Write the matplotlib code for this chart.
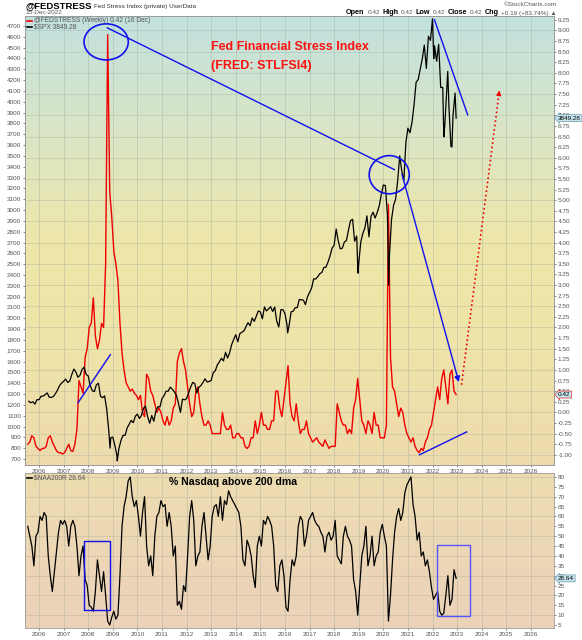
import matplotlib.pyplot as plt
import numpy as np
from matplotlib.colors import LinearSegmentedColormap
from matplotlib.patches import Ellipse, Rectangle
from matplotlib.lines import Line2D

plt.rcParams['font.family'] = ['Liberation Sans', 'DejaVu Sans']

# monthly readings, Jul 2005 .. Dec 2022 (last = 16 Dec 2022)
fsi = [-0.75, -0.70, -0.55, -0.60, -0.80, -0.85,
       -0.90, -0.85, -0.85, -0.80, -0.60, -0.55, -0.70, -0.80, -0.90, -0.95, -0.95, -0.98,   # 2006
       -0.95, -0.85, -0.75, -0.90, -0.92, -0.75, -0.40, 0.75, 0.60, 0.45, 1.30, 1.50,        # 2007
       2.00, 2.10, 2.70, 1.80, 1.50, 1.70, 2.10, 2.00, 3.50, 8.90, 5.20, 4.60,               # 2008
       3.80, 3.50, 3.10, 2.10, 1.40, 1.00, 0.70, 0.60, 0.50, 0.55, 0.45, 0.40,               # 2009
       0.30, 0.40, 0.00, -0.10, 0.90, 0.80, 0.50, 0.40, 0.20, 0.00, 0.10, 0.00,              # 2010
       -0.20, -0.30, -0.10, -0.30, -0.20, 0.10, 0.20, 1.20, 1.40, 1.50, 1.20, 1.00,          # 2011
       0.60, 0.20, -0.10, 0.00, 0.50, 0.60, 0.20, -0.10, -0.30, -0.30, -0.20, -0.30,         # 2012
       -0.50, -0.50, -0.50, -0.50, -0.50, 0.00, -0.30, -0.40, -0.40, -0.30, -0.60, -0.60,    # 2013
       -0.50, -0.50, -0.60, -0.60, -0.80, -0.85, -0.80, -0.60, -0.60, -0.20, -0.50, -0.30,   # 2014
       0.00, -0.30, -0.30, -0.40, -0.40, -0.20, -0.20, 0.50, 0.50, 0.10, -0.10, 0.30,        # 2015
       0.70, 1.10, 0.20, -0.10, -0.20, 0.20, -0.20, -0.50, -0.40, -0.40, -0.20, -0.50,       # 2016
       -0.60, -0.70, -0.65, -0.60, -0.70, -0.75, -0.80, -0.65, -0.75, -0.85, -0.80, -0.80,   # 2017
       -0.80, 0.20, 0.00, -0.20, -0.30, -0.30, -0.50, -0.40, -0.50, 0.10, 0.30, 0.80,        # 2018
       0.30, -0.20, -0.30, -0.50, -0.20, -0.30, -0.50, 0.00, -0.30, -0.30, -0.60, -0.60,     # 2019
       -0.60, -0.30, 4.90, 1.30, 0.60, 0.50, 0.20, -0.10, 0.10, 0.00, -0.30, -0.50,          # 2020
       -0.60, -0.70, -0.60, -0.80, -0.90, -0.95, -0.85, -0.90, -0.70, -0.60, -0.40, -0.30,   # 2021
       0.00, 0.30, 0.60, 0.30, 0.80, 1.00, 0.60, 0.20, 0.90, 1.00, 0.50, 0.42]               # 2022

# month-end closes
spx = [1234, 1220, 1229, 1207, 1249, 1248,
       1280, 1281, 1295, 1311, 1270, 1270, 1277, 1304, 1336, 1378, 1401, 1418,
       1438, 1407, 1421, 1482, 1531, 1503, 1455, 1474, 1527, 1549, 1481, 1468,
       1378, 1331, 1323, 1386, 1400, 1280, 1267, 1283, 1166, 969, 896, 903,
       826, 735, 798, 873, 919, 919, 987, 1021, 1057, 1036, 1096, 1115,
       1074, 1104, 1169, 1187, 1089, 1031, 1102, 1049, 1141, 1183, 1181, 1258,
       1286, 1327, 1326, 1364, 1345, 1321, 1292, 1219, 1131, 1253, 1247, 1258,
       1312, 1366, 1408, 1398, 1310, 1362, 1379, 1407, 1441, 1412, 1416, 1426,
       1498, 1515, 1569, 1598, 1631, 1606, 1686, 1633, 1682, 1757, 1806, 1848,
       1783, 1859, 1872, 1884, 1924, 1960, 1931, 2003, 1972, 2018, 2068, 2059,
       1995, 2105, 2068, 2086, 2107, 2063, 2104, 1972, 1920, 2079, 2080, 2044,
       1940, 1932, 2060, 2065, 2097, 2099, 2174, 2171, 2168, 2126, 2199, 2239,
       2279, 2364, 2363, 2384, 2412, 2423, 2470, 2472, 2519, 2575, 2648, 2674,
       2824, 2714, 2641, 2648, 2705, 2718, 2816, 2902, 2914, 2712, 2760, 2507,
       2704, 2784, 2834, 2946, 2752, 2942, 2980, 2926, 2977, 3038, 3141, 3231,
       3226, 2954, 2585, 2912, 3044, 3100, 3271, 3500, 3363, 3270, 3622, 3756,
       3714, 3811, 3973, 4181, 4204, 4298, 4395, 4523, 4308, 4605, 4567, 4766,
       4516, 4374, 4530, 4132, 4132, 3785, 4130, 3955, 3586, 3872, 4080, 3849.28]

# weekly closes that the month-end points miss
spx_extra_t = [2008.89, 2009.18, 2016.11, 2018.97, 2020.22, 2022.05, 2022.46, 2022.62, 2022.79]
spx_extra_v = [800, 683, 1865, 2417, 2305, 4398, 3675, 4280, 3583]

naa = [55, 50, 45, 35, 50, 52,
       60, 58, 62, 60, 40, 30, 22, 32, 42, 52, 58, 56,
       58, 55, 45, 55, 58, 55, 45, 30, 40, 45, 28, 25,
       15, 14, 12, 22, 38, 30, 22, 32, 20, 7, 5, 9,
       12, 8, 10, 30, 55, 65, 70, 78, 80, 70, 65, 68,
       60, 50, 62, 70, 45, 35, 40, 30, 50, 60, 62, 68,
       65, 66, 55, 62, 55, 40, 45, 15, 17, 13, 25, 22,
       40, 60, 68, 58, 35, 40, 42, 55, 62, 50, 38, 45,
       60, 65, 66, 60, 70, 58, 68, 66, 73, 70, 68, 66,
       64, 62, 55, 38, 35, 48, 45, 40, 30, 24, 45, 50,
       45, 58, 56, 60, 58, 55, 45, 25, 22, 35, 38, 30,
       14, 12, 28, 38, 35, 40, 55, 60, 58, 45, 50, 58,
       60, 62, 58, 56, 55, 52, 50, 42, 50, 52, 48, 50,
       58, 40, 38, 36, 50, 55, 50, 48, 45, 28, 22, 10,
       25, 40, 45, 55, 35, 40, 50, 35, 40, 42, 52, 56,
       50, 45, 7, 20, 38, 52, 60, 64, 58, 62, 72, 76,
       78, 80, 66, 60, 48, 52, 40, 42, 35, 38, 32, 24,
       18, 20, 22, 12, 10, 11, 20, 30, 15, 18, 33, 28.64]

years = list(range(2006, 2027))

LAST = 2022.96   # 16 Dec 2022
t_mid = 2005.5 + (np.arange(len(fsi)) + 0.5) / 12
t_mid[-1] = LAST
t_end = 2005.5 + (np.arange(len(spx)) + 1.0) / 12
t_end[-1] = LAST

all_t = np.r_[t_end, spx_extra_t]
all_v = np.r_[spx, spx_extra_v]
order = np.argsort(all_t, kind='stable')
spx_t, spx_v = all_t[order], all_v[order]

XMIN, XMAX = 2005.43, 2026.94
W, H = 582, 640


def px(x0, y0, x1, y1):
    return [x0 / W, 1 - y1 / H, (x1 - x0) / W, (y1 - y0) / H]


fig = plt.figure(figsize=(W / 100, H / 100), dpi=100)
ax1 = fig.add_axes(px(25, 16, 554, 465))
ax2 = ax1.twinx()
ax3 = fig.add_axes(px(25, 473, 554, 628))

tick_col = '#555555'
grid_col = '#9aa89a'

top_cmap = LinearSegmentedColormap.from_list('top', ['#c2e1df', '#d9e5c6', '#eee7aa', '#efe3a8', '#eedbae'])
bot_cmap = LinearSegmentedColormap.from_list('bot', ['#eedcb0', '#ebd2ba'])
grad = np.linspace(1, 0, 256).reshape(-1, 1)
ax1.imshow(grad, extent=[0, 1, 0, 1], transform=ax1.transAxes, cmap=top_cmap,
           aspect='auto', origin='lower', zorder=0)
ax3.imshow(grad, extent=[0, 1, 0, 1], transform=ax3.transAxes, cmap=bot_cmap,
           aspect='auto', origin='lower', zorder=0)

# grids
for y in years:
    ax1.axvline(y, color=grid_col, lw=0.5, alpha=0.5, zorder=1)
    ax3.axvline(y, color=grid_col, lw=0.5, alpha=0.5, zorder=1)
for v in np.arange(-1, 9.3, 0.5):
    ax1.axhline(v, color=grid_col, lw=0.5, alpha=0.45, zorder=1)
for v in range(10, 81, 10):
    ax3.axhline(v, color=grid_col, lw=0.5, alpha=0.45, zorder=1)

# series
ax1.plot(t_mid, fsi, color='#ee0000', lw=1.0, zorder=3)
ax2.plot(spx_t, spx_v, color='black', lw=0.9, zorder=3)
ax3.plot(t_mid, naa, color='black', lw=0.9, zorder=3)

# scales
ax1.set_xlim(XMIN, XMAX)
ax3.set_xlim(XMIN, XMAX)
ax1.set_ylim(-1.24, 9.34)
ax2.set_ylim(645, 4792)
ax3.set_ylim(3.5, 82)

ax1.yaxis.tick_right()
ax1.set_yticks(np.arange(-1, 9.26, 0.25))
ax1.set_yticklabels([f'{v:.2f}' for v in np.arange(-1, 9.26, 0.25)])
ax2.yaxis.tick_left()
ax2.set_yticks(range(700, 4701, 100))
ax3.yaxis.tick_right()
ax3.set_yticks(range(5, 81, 5))
for ax in (ax1, ax3):
    ax.set_xticks(years)
    ax.set_xticklabels([str(y) for y in years])
for ax in (ax1, ax2, ax3):
    ax.tick_params(labelsize=4.6, colors=tick_col, length=1.5, width=0.5, pad=1.2)
    for s in ax.spines.values():
        s.set_color('#9a9a9a')
        s.set_linewidth(0.6)

# hand-drawn annotations, in stress-index coordinates, over the S&P line
tr = ax1.transData
blue = '#1010ee'
ax2.add_patch(Ellipse((2008.73, 8.73), 1.8, 0.85, transform=tr, fill=False, ec=blue, lw=1.2, zorder=5))
ax2.add_patch(Ellipse((2020.24, 5.60), 1.63, 0.9, transform=tr, fill=False, ec=blue, lw=1.2, zorder=5))
ax2.plot([2008.78, 2020.45], [9.06, 5.72], color=blue, lw=1.0, transform=tr, zorder=5)
ax2.plot([2022.08, 2023.43], [9.25, 7.01], color=blue, lw=1.0, transform=tr, zorder=5)
ax2.plot([2007.59, 2008.90], [0.23, 1.36], color=blue, lw=1.0, transform=tr, zorder=5)
ax2.plot([2021.47, 2023.39], [-1.0, -0.46], color=blue, lw=1.0, transform=tr, zorder=5)
ax2.annotate('', xy=(2023.10, 0.65), xytext=(2020.73, 5.67), xycoords=tr, textcoords=tr,
             arrowprops=dict(arrowstyle='-|>', color=blue, lw=1.0, mutation_scale=8), zorder=5)
ax2.plot([2023.18, 2024.70], [0.65, 7.50], color='#ee0000', lw=1.2, ls=':', transform=tr, zorder=5)
ax2.annotate('', xy=(2024.73, 7.65), xytext=(2024.68, 7.40), xycoords=tr, textcoords=tr,
             arrowprops=dict(arrowstyle='-|>', color='#ee0000', lw=0.8, mutation_scale=7), zorder=5)

ax3.add_patch(Rectangle((2007.84, 12.7), 1.06, 35.1, fill=False, ec=blue, lw=1.0, zorder=5))
ax3.add_patch(Rectangle((2022.20, 9.6), 1.31, 35.7, fill=False, ec='#5555ff', lw=1.0, zorder=5))

# last value tags on the right axis
tag_kw = dict(xycoords=('axes fraction', 'data'), textcoords='offset points', xytext=(3, 0),
              fontsize=4.6, va='center', ha='left', annotation_clip=False, zorder=6)
ax2.annotate('3849.28', xy=(1, spx[-1]),
             bbox=dict(boxstyle='larrow,pad=0.15', fc='#c6e6ee', ec='#6a9aa8', lw=0.5), **tag_kw)
ax1.annotate('0.42', xy=(1, fsi[-1]),
             bbox=dict(boxstyle='larrow,pad=0.15', fc='#c6e6ee', ec='#e03030', lw=0.5), **tag_kw)
ax3.annotate('28.64', xy=(1, naa[-1]),
             bbox=dict(boxstyle='larrow,pad=0.15', fc='#c6e6ee', ec='#6a9aa8', lw=0.5), **tag_kw)

# chart titles
fig.text(211 / W, 1 - 47 / H, 'Fed Financial Stress Index', color='#ff1010', fontsize=9,
         fontweight='bold', va='center')
fig.text(211 / W, 1 - 66 / H, '(FRED: STLFSI4)', color='#ff1010', fontsize=9,
         fontweight='bold', va='center')
fig.text(169 / W, 1 - 482 / H, '% Nasdaq above 200 dma', color='black', fontsize=7.6,
         fontweight='bold', va='center', ha='left')


# legends
def legend_row(x, y, col, label):
    fig.add_artist(Line2D([x / W, (x + 5) / W], [1 - y / H, 1 - y / H], color=col, lw=1.2))
    fig.text((x + 7) / W, 1 - y / H, label, fontsize=4.8, color=tick_col, va='center')


legend_row(27, 21, '#ee0000', '@FEDSTRESS (Weekly) 0.42 (16 Dec)')
legend_row(27, 27, 'black', '$SPX 3849.28')
legend_row(27, 478, 'black', '$NAA200R 28.64')

# header
renderer = fig.canvas.get_renderer()
head = fig.text(25 / W, 1 - 6 / H, '@FEDSTRESS', fontsize=6.8, fontweight='bold', va='center')
head_w = head.get_window_extent(renderer).width
fig.text((25 + head_w + 3) / W, 1 - 6.5 / H, 'Fed Stress Index (private) UserData',
         fontsize=4.6, va='center', color='#333333')
fig.text(25 / W, 1 - 13 / H, '15-Dec-2022', fontsize=4.6, va='center', color=tick_col)
fig.text(557 / W, 1 - 5 / H, '©StockCharts.com', fontsize=4.6, va='center', ha='right', color=tick_col)

pieces = [('Open', True), ('0.42', False), ('High', True), ('0.42', False),
          ('Low', True), ('0.42', False), ('Close', True), ('0.42', False),
          ('Chg', True), ('+0.19 (+83.74%) ▲', False)]
texts = []
for word, bold in pieces:
    texts.append(fig.text(0, 1 - 13 / H, word, fontsize=5.2 if bold else 4.6,
                          fontweight='bold' if bold else 'normal', va='center',
                          color='black' if bold else tick_col))
widths = [tx.get_window_extent(renderer).width for tx in texts]
gap = 2.5
x = 557 - (sum(widths) + gap * (len(widths) - 1))
for tx, w in zip(texts, widths):
    tx.set_x(x / W)
    x += w + gap

plt.savefig('out.png', dpi=100)
